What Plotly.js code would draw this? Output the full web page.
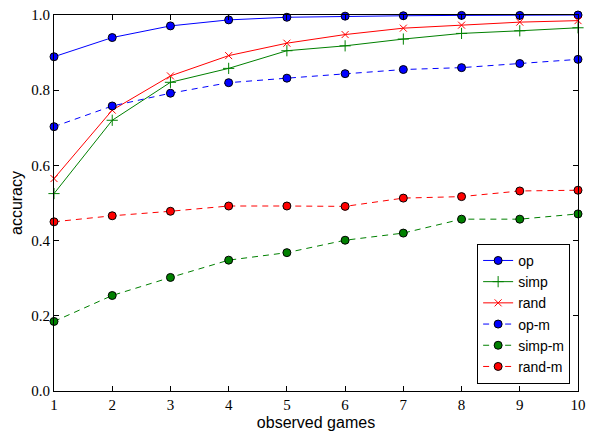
<!DOCTYPE html>
<html>
<head>
<meta charset="utf-8">
<script src="https://cdn.plot.ly/plotly-3.0.1.min.js"></script>
<style>html,body{margin:0;padding:0;background:#fff;}#chart{width:590px;height:435px;}</style>
</head>
<body>
<div id="chart"></div>
<script>
const games = [1, 2, 3, 4, 5, 6, 7, 8, 9, 10];
const op    = [0.889, 0.940, 0.971, 0.987, 0.994, 0.997, 0.998, 0.999, 0.999, 1.000];
const simp  = [0.525, 0.720, 0.821, 0.858, 0.905, 0.918, 0.936, 0.951, 0.958, 0.966];
const rand  = [0.565, 0.747, 0.838, 0.892, 0.925, 0.948, 0.965, 0.973, 0.981, 0.985];
const opM   = [0.703, 0.758, 0.792, 0.820, 0.832, 0.844, 0.855, 0.860, 0.871, 0.882];
const simpM = [0.185, 0.254, 0.302, 0.348, 0.368, 0.401, 0.420, 0.457, 0.457, 0.471];
const randM = [0.450, 0.466, 0.478, 0.492, 0.492, 0.491, 0.513, 0.517, 0.532, 0.534];
const yTicks = [0.0, 0.2, 0.4, 0.6, 0.8, 1.0];

const BLUE = '#0000ff', GREEN = '#008000', RED = '#ff0000';
const dot = c => ({symbol: 'circle', size: 8, color: c, line: {color: '#000', width: 1}});

const traces = [
  {name: 'op', y: op, line: {color: BLUE, width: 1}, marker: dot(BLUE)},
  {name: 'simp', y: simp, line: {color: GREEN, width: 1}, marker: {symbol: 'cross-thin', size: 8, color: GREEN, line: {color: GREEN, width: 1}}},
  {name: 'rand', y: rand, line: {color: RED, width: 1}, marker: {symbol: 'x-thin', size: 7, color: RED, line: {color: RED, width: 1}}},
  {name: 'op-m', y: opM, line: {color: BLUE, width: 1, dash: '6px,5px'}, marker: dot(BLUE)},
  {name: 'simp-m', y: simpM, line: {color: GREEN, width: 1, dash: '6px,5px'}, marker: dot(GREEN)},
  {name: 'rand-m', y: randM, line: {color: RED, width: 1, dash: '6px,5px'}, marker: dot(RED)}
].map(t => Object.assign({x: games, type: 'scatter', mode: 'lines+markers', cliponaxis: false}, t));

const serif = {family: 'Liberation Serif, DejaVu Serif, serif', size: 15, color: '#000'};
const sans = {family: 'Liberation Sans, Arial, sans-serif', size: 16, color: '#000'};

const layout = {
  width: 590, height: 435,
  margin: {l: 54, r: 12, t: 15, b: 44},
  paper_bgcolor: '#fff', plot_bgcolor: '#fff',
  showlegend: true,
  xaxis: {
    range: [1, 10], tickvals: games, ticktext: games.map(String),
    ticks: 'inside', ticklen: 5, tickcolor: '#000', mirror: 'allticks',
    showline: true, linecolor: '#000', linewidth: 1, showgrid: false, zeroline: false,
    tickfont: serif, title: {text: 'observed games', font: sans, standoff: 4}
  },
  yaxis: {
    range: [0, 1], tickvals: yTicks, ticktext: yTicks.map(v => v.toFixed(1)),
    ticks: 'inside', ticklen: 5, tickcolor: '#000', mirror: 'allticks',
    showline: true, linecolor: '#000', linewidth: 1, showgrid: false, zeroline: false,
    tickfont: serif, title: {text: 'accuracy', font: sans, standoff: 4}
  },
  legend: {
    x: 0.985, y: 0.019, xanchor: 'right', yanchor: 'bottom',
    bgcolor: '#fff', bordercolor: '#000', borderwidth: 1,
    font: {family: 'Liberation Sans, Arial, sans-serif', size: 14, color: '#000'},
    tracegroupgap: 0
  }
};

Plotly.newPlot('chart', traces, layout, {displayModeBar: false, staticPlot: true});
</script>
</body>
</html>
